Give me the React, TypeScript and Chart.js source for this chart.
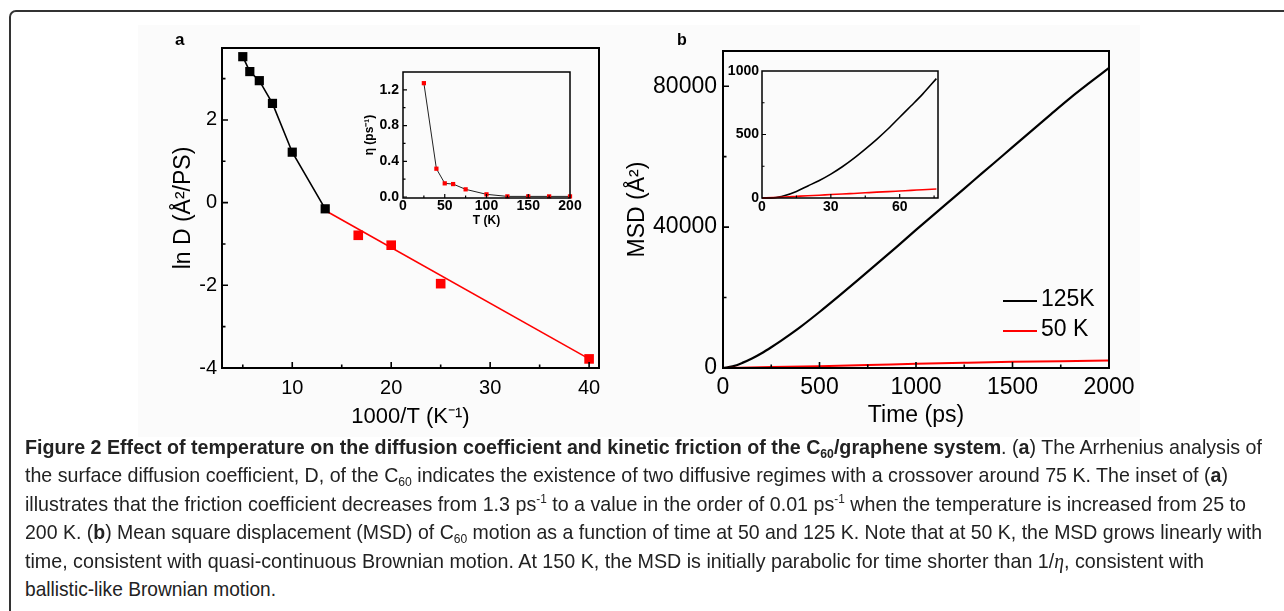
import React, { useEffect, useLayoutEffect, useRef } from "react";
import { Chart, registerables } from "chart.js";

Chart.register(...registerables);

const FONT = "'Liberation Sans', Arial, Helvetica, sans-serif";
const CAPTION_FONT = "'Liberation Sans Narrow', 'Liberation Sans', Arial, sans-serif";

// ---------- Panel a : Arrhenius plot ----------
const invTFast = [5.0, 5.71, 6.67, 8.0, 10.0, 13.33];
const lnDFast = [3.53, 3.17, 2.95, 2.4, 1.22, -0.15];
const invTSlow = [16.67, 20.0, 25.0, 40.0];
const lnDSlow = [-0.79, -1.03, -1.96, -3.78];
const fitSlowX = [13.33, 40.0];
const fitSlowY = [-0.19, -3.78];
const aXTicks = [10, 20, 30, 40];
const aXMinor = [5, 15, 25, 35];
const aYTicks = [-4, -2, 0, 2];
const aYMinor = [-3, -1, 1, 3];

// ---------- Panel a inset : friction coefficient ----------
const etaT = [25, 40, 50, 60, 75, 100, 125, 150, 175, 200];
const etaVal = [1.275, 0.317, 0.153, 0.145, 0.086, 0.03, 0.007, 0.007, 0.007, 0.007];
const iaXTicks = [0, 50, 100, 150, 200];
const iaXMinor = [25, 75, 125, 175];
const iaYTicks = [0, 0.4, 0.8, 1.2];
const iaYMinor = [0.2, 0.6, 1.0];

// ---------- Panel b : MSD vs time ----------
const timePs = [0, 50, 100, 150, 200, 250, 300, 350, 400, 500, 600, 700, 800, 900, 1000, 1100, 1200, 1300, 1400, 1500, 1600, 1700, 1800, 1900, 2000];
const msd125K = [0, 460, 1450, 2700, 4200, 5900, 7700, 9600, 11600, 15900, 20400, 25000, 29700, 34400, 39200, 43900, 48600, 53300, 58000, 62700, 67400, 72100, 76700, 81000, 85200];
const time50 = [0, 250, 500, 750, 1000, 1250, 1500, 1750, 2000];
const msd50K = [0, 250, 520, 830, 1180, 1480, 1750, 1950, 2100];
const bXTicks = [0, 500, 1000, 1500, 2000];
const bXMinor = [250, 750, 1250, 1750];
const bYTicks = [0, 40000, 80000];
const bYMinor = [20000, 60000];

// ---------- Panel b inset : short times ----------
const shortT = [0, 5, 10, 15, 20, 25, 30, 35, 40, 45, 50, 55, 60, 65, 70, 76];
const short125K = [0, 2, 20, 52, 95, 138, 188, 246, 312, 385, 462, 545, 636, 726, 818, 940];
const short50K = [0, 3, 8, 13, 18, 22, 27, 31, 36, 41, 46, 50, 55, 60, 65, 71];
const ibXTicks = [0, 30, 60];
const ibXMinor = [15, 45, 75];
const ibYTicks = [0, 500, 1000];
const ibYMinor = [250, 750];

const legendLabels = ["125K", "50 K"];

const zip = (xs: number[], ys: number[]) => xs.map((x, i) => ({ x, y: ys[i] }));

type AxisSpec = {
  min: number;
  max: number;
  ticks: number[];
  minor: number[];
  fmt: (v: number) => string;
  font: any;
  pad: number;
  title?: string;
  titleFont?: any;
  titlePad?: number;
};

type Spec = {
  box: { left: number; top: number; width: number; height: number };
  area: { l: number; t: number; r: number; b: number };
  x: AxisSpec;
  y: AxisSpec;
  frameWidth: number;
  tickWidth: number;
  majorLen: number;
  minorLen: number;
  datasets: any[];
};

function framePlugin(spec: Spec) {
  return {
    id: "frame",
    afterDraw(chart: any) {
      const { ctx, chartArea: a, scales } = chart;
      const xs = scales.x;
      const ys = scales.y;
      ctx.save();
      ctx.strokeStyle = "#000";
      ctx.lineWidth = spec.tickWidth;
      ctx.beginPath();
      const drawX = (vals: number[], len: number) => {
        vals.forEach((v) => {
          if (v <= spec.x.min || v >= spec.x.max) return;
          const px = xs.getPixelForValue(v);
          ctx.moveTo(px, a.bottom);
          ctx.lineTo(px, a.bottom - len);
        });
      };
      const drawY = (vals: number[], len: number) => {
        vals.forEach((v) => {
          if (v <= spec.y.min || v >= spec.y.max) return;
          const py = ys.getPixelForValue(v);
          ctx.moveTo(a.left, py);
          ctx.lineTo(a.left + len, py);
        });
      };
      drawX(spec.x.ticks, spec.majorLen);
      drawX(spec.x.minor, spec.minorLen);
      drawY(spec.y.ticks, spec.majorLen);
      drawY(spec.y.minor, spec.minorLen);
      ctx.stroke();
      ctx.lineWidth = spec.frameWidth;
      ctx.strokeRect(a.left, a.top, a.right - a.left, a.bottom - a.top);
      ctx.restore();
    },
  };
}

function buildConfig(spec: Spec): any {
  const W = spec.area.l - spec.box.left;
  const T = spec.area.t - spec.box.top;
  const R = spec.box.left + spec.box.width - spec.area.r;
  const H = spec.box.top + spec.box.height - spec.area.b;
  const axis = (ax: AxisSpec, isX: boolean) => ({
    type: "linear",
    position: isX ? "bottom" : "left",
    min: ax.min,
    max: ax.max,
    afterBuildTicks: (s: any) => {
      s.ticks = ax.ticks.map((v) => ({ value: v }));
    },
    afterFit: (s: any) => {
      if (isX) s.height = H;
      else s.width = W;
      s.paddingLeft = 0;
      s.paddingRight = 0;
      s.paddingTop = 0;
      s.paddingBottom = 0;
    },
    grid: { display: false, drawTicks: false, drawOnChartArea: false },
    border: { display: false },
    ticks: {
      color: "#000",
      font: { family: FONT, ...ax.font },
      padding: ax.pad,
      maxRotation: 0,
      minRotation: 0,
      autoSkip: false,
      callback: (v: any) => ax.fmt(Number(v)),
    },
    title: ax.title
      ? {
          display: true,
          text: ax.title,
          color: "#000",
          font: { family: FONT, ...ax.titleFont },
          padding: isX ? { top: 0, bottom: ax.titlePad } : { top: ax.titlePad, bottom: 0 },
        }
      : { display: false },
  });
  return {
    type: "scatter",
    data: { datasets: spec.datasets },
    options: {
      responsive: false,
      maintainAspectRatio: false,
      animation: false,
      devicePixelRatio: 1,
      events: [],
      layout: { autoPadding: false, padding: { left: 0, top: T, right: R, bottom: 0 } },
      plugins: { legend: { display: false }, tooltip: { enabled: false } },
      scales: { x: axis(spec.x, true), y: axis(spec.y, false) },
    },
    plugins: [framePlugin(spec)],
  };
}

function ChartBox({ spec }: { spec: Spec }) {
  const ref = useRef<HTMLCanvasElement>(null);
  useEffect(() => {
    const chart = new Chart(ref.current as HTMLCanvasElement, buildConfig(spec));
    return () => chart.destroy();
  }, [spec]);
  return (
    <canvas
      ref={ref}
      width={spec.box.width}
      height={spec.box.height}
      style={{
        position: "absolute",
        left: spec.box.left,
        top: spec.box.top,
        width: spec.box.width,
        height: spec.box.height,
      }}
    />
  );
}

const intFmt = (v: number) => String(Math.round(v));

const specA: Spec = {
  box: { left: 125, top: 25, width: 490, height: 415 },
  area: { l: 222, t: 48, r: 599, b: 368 },
  x: { min: 2.9, max: 41, ticks: aXTicks, minor: aXMinor, fmt: intFmt, font: { size: 20 }, pad: 8,
       title: "1000/T (K\u207B\u00B9)", titleFont: { size: 22 }, titlePad: 10 },
  y: { min: -4, max: 3.74, ticks: aYTicks, minor: aYMinor, fmt: intFmt, font: { size: 20 }, pad: 5,
       title: "ln D (\u00C5\u00B2/PS)", titleFont: { size: 23 }, titlePad: 45 },
  frameWidth: 2,
  tickWidth: 1.6,
  majorLen: 6,
  minorLen: 3.5,
  datasets: [
    { data: zip(invTFast, lnDFast), showLine: true, borderColor: "#000", borderWidth: 1.6, tension: 0,
      pointStyle: "rect", pointRadius: 6.5, pointBackgroundColor: "#000", pointBorderColor: "#000",
      pointBorderWidth: 0, clip: 12, order: 1 },
    { data: zip(invTSlow, lnDSlow), showLine: false, pointStyle: "rect", pointRadius: 6.8,
      pointBackgroundColor: "#f00", pointBorderColor: "#f00", pointBorderWidth: 0, clip: 12, order: 2 },
    { data: zip(fitSlowX, fitSlowY), showLine: true, borderColor: "#f00", borderWidth: 1.6, pointRadius: 0,
      clip: 12, order: 3 },
  ],
};

const specAInset: Spec = {
  box: { left: 340, top: 62, width: 250, height: 173 },
  area: { l: 403, t: 72, r: 570, b: 198 },
  x: { min: 0, max: 200, ticks: iaXTicks, minor: iaXMinor, fmt: intFmt, font: { size: 14, weight: "bold" }, pad: 0,
       title: "T (K)", titleFont: { size: 12, weight: "bold" }, titlePad: 7 },
  y: { min: -0.011, max: 1.4, ticks: iaYTicks, minor: iaYMinor, fmt: (v) => v.toFixed(1),
       font: { size: 14, weight: "bold" }, pad: 4,
       title: "\u03B7 (ps\u207B\u00B9)", titleFont: { size: 12, weight: "bold" }, titlePad: 22 },
  frameWidth: 1.5,
  tickWidth: 1.2,
  majorLen: 4,
  minorLen: 2.5,
  datasets: [
    { data: zip(etaT, etaVal), showLine: true, borderColor: "#222", borderWidth: 1, tension: 0,
      pointStyle: "rect", pointRadius: 3, pointBackgroundColor: "#f00", pointBorderColor: "#f00",
      pointBorderWidth: 0, clip: 6 },
  ],
};

const specB: Spec = {
  box: { left: 615, top: 25, width: 545, height: 415 },
  area: { l: 723, t: 51, r: 1109, b: 368 },
  x: { min: 0, max: 2000, ticks: bXTicks, minor: bXMinor, fmt: intFmt, font: { size: 23 }, pad: 6,
       title: "Time (ps)", titleFont: { size: 23 }, titlePad: 11 },
  y: { min: 0, max: 90000, ticks: bYTicks, minor: bYMinor, fmt: intFmt, font: { size: 23 }, pad: 6,
       title: "MSD (\u00C5\u00B2)", titleFont: { size: 23 }, titlePad: 9 },
  frameWidth: 2,
  tickWidth: 1.6,
  majorLen: 6,
  minorLen: 3.5,
  datasets: [
    { data: zip(time50, msd50K), showLine: true, borderColor: "#f00", borderWidth: 2, pointRadius: 0,
      cubicInterpolationMode: "monotone", clip: 4, order: 1 },
    { data: zip(timePs, msd125K), showLine: true, borderColor: "#000", borderWidth: 2.2, pointRadius: 0,
      cubicInterpolationMode: "monotone", clip: 4, order: 2 },
  ],
};

const specBInset: Spec = {
  box: { left: 700, top: 60, width: 250, height: 160 },
  area: { l: 762, t: 71, r: 938, b: 198 },
  x: { min: 0, max: 76.7, ticks: ibXTicks, minor: ibXMinor, fmt: intFmt, font: { size: 14, weight: "bold" }, pad: 1 },
  y: { min: 0, max: 1000, ticks: ibYTicks, minor: ibYMinor, fmt: intFmt, font: { size: 14, weight: "bold" }, pad: 3 },
  frameWidth: 1.5,
  tickWidth: 1.2,
  majorLen: 4,
  minorLen: 2.5,
  datasets: [
    { data: zip(shortT, short50K), showLine: true, borderColor: "#f00", borderWidth: 1.6, pointRadius: 0,
      cubicInterpolationMode: "monotone", clip: 3, order: 1 },
    { data: zip(shortT, short125K), showLine: true, borderColor: "#000", borderWidth: 1.6, pointRadius: 0,
      cubicInterpolationMode: "monotone", clip: 3, order: 2 },
  ],
};

// ---------- Caption ----------
const CAP_LEFT = 25;
const CAP_SIZE = 21;
const capBaselines = [454, 482, 511, 539, 568, 596];
const capWidths = [1237, 1203, 1221, 1237, 1179, 251];

const Sub = ({ children }: any) => (
  <span style={{ fontSize: "0.62em", position: "relative", top: "0.28em" }}>{children}</span>
);
const Sup = ({ children }: any) => (
  <span style={{ fontSize: "0.6em", position: "relative", top: "-0.62em" }}>{children}</span>
);

const captionLines = [
  <>
    <b>
      Figure 2 Effect of temperature on the diffusion coefficient and kinetic friction of the C<Sub>60</Sub>/graphene
      system
    </b>
    . (<b>a</b>) The Arrhenius analysis of
  </>,
  <>
    the surface diffusion coefficient, D, of the C<Sub>60</Sub> indicates the existence of two diffusive regimes with a
    crossover around 75 K. The inset of (<b>a</b>)
  </>,
  <>
    illustrates that the friction coefficient decreases from 1.3 ps<Sup>-1</Sup> to a value in the order of 0.01 ps
    <Sup>-1</Sup> when the temperature is increased from 25 to
  </>,
  <>
    200 K. (<b>b</b>) Mean square displacement (MSD) of C<Sub>60</Sub> motion as a function of time at 50 and 125 K.
    Note that at 50 K, the MSD grows linearly with
  </>,
  <>
    time, consistent with quasi-continuous Brownian motion. At 150 K, the MSD is initially parabolic for time shorter
    than 1/<i style={{ fontFamily: "'Liberation Serif', serif" }}>η</i>, consistent with
  </>,
  <>ballistic-like Brownian motion.</>,
];

function CaptionLine({ baseline, width, children }: any) {
  const ref = useRef<HTMLSpanElement>(null);
  useLayoutEffect(() => {
    const fit = () => {
      const el = ref.current;
      if (!el) return;
      el.style.transform = "none";
      const w = el.getBoundingClientRect().width;
      if (w > 0) el.style.transform = `scaleX(${width / w})`;
    };
    fit();
    if ((document as any).fonts && (document as any).fonts.ready) (document as any).fonts.ready.then(fit);
  }, [width]);
  return (
    <span
      ref={ref}
      style={{
        position: "absolute",
        left: CAP_LEFT,
        top: baseline - 0.8465 * CAP_SIZE,
        fontFamily: CAPTION_FONT,
        fontSize: CAP_SIZE,
        lineHeight: `${CAP_SIZE}px`,
        whiteSpace: "nowrap",
        display: "inline-block",
        transformOrigin: "0 0",
        color: "#222",
      }}
    >
      {children}
    </span>
  );
}

export default function App() {
  return (
    <div
      style={{
        position: "absolute",
        left: 0,
        top: 0,
        width: 1284,
        height: 611,
        overflow: "hidden",
        background: "#fff",
        fontFamily: FONT,
      }}
    >
      {/* outer rounded border */}
      <div
        style={{
          position: "absolute",
          left: 9,
          top: 10,
          width: 1300,
          height: 640,
          border: "2px solid #333",
          borderRadius: 7,
          boxSizing: "border-box",
        }}
      />
      {/* figure image background */}
      <div style={{ position: "absolute", left: 138, top: 25, width: 1002, height: 412, background: "#fbfbfb" }} />

      <ChartBox spec={specA} />
      <ChartBox spec={specAInset} />
      <ChartBox spec={specB} />
      <ChartBox spec={specBInset} />

      {/* panel letters */}
      <div style={{ position: "absolute", left: 175, top: 30.6, fontSize: 17, lineHeight: "17px", fontWeight: "bold" }}>a</div>
      <div style={{ position: "absolute", left: 677, top: 31.5, fontSize: 16, lineHeight: "16px", fontWeight: "bold" }}>b</div>

      {/* legend of panel b */}
      <div style={{ position: "absolute", left: 1003, top: 300, width: 34, height: 2, background: "#000" }} />
      <div style={{ position: "absolute", left: 1003, top: 330, width: 34, height: 2, background: "#f00" }} />
      <div style={{ position: "absolute", left: 1041, top: 287.2, fontSize: 23, lineHeight: "23px", whiteSpace: "nowrap" }}>
        {legendLabels[0]}
      </div>
      <div style={{ position: "absolute", left: 1041, top: 317.2, fontSize: 23, lineHeight: "23px", whiteSpace: "nowrap" }}>
        {legendLabels[1]}
      </div>

      {captionLines.map((c, i) => (
        <CaptionLine key={i} baseline={capBaselines[i]} width={capWidths[i]}>
          {c}
        </CaptionLine>
      ))}
    </div>
  );
}
